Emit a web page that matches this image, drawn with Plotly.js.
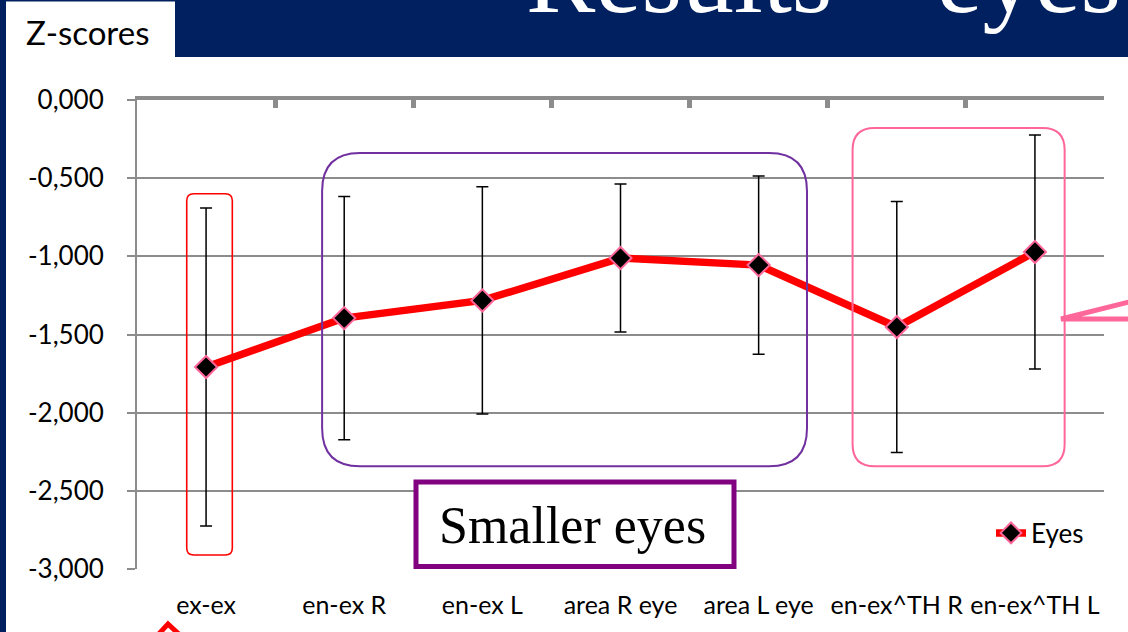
<!DOCTYPE html>
<html>
<head>
<meta charset="utf-8">
<script src="https://cdn.plot.ly/plotly-3.0.1.min.js"></script>
<style>
  html, body { margin: 0; padding: 0; background: #ffffff; }
  #chart { width: 1128px; height: 632px; }
</style>
</head>
<body>
<div id="chart"></div>
<script>
// Eye measurements, mean z-scores with their standard deviations
const categories = ['ex-ex', 'en-ex R', 'en-ex L', 'area R eye', 'area L eye', 'en-ex^TH R', 'en-ex^TH L'];
const zScores = [-1.708, -1.395, -1.282, -1.011, -1.056, -1.452, -0.972];
const zErrors = [1.017, 0.778, 0.727, 0.473, 0.570, 0.803, 0.748];
const yTicks = [0, -0.5, -1, -1.5, -2, -2.5, -3];
// decimal comma, plain hyphen for the sign
const yTickText = yTicks.map(v => v.toFixed(3).replace('.', ','));

// Page geometry
const W = 1128, H = 632;
const M = { l: 137, r: 24, t: 100, b: 63 };
const PW = W - M.l - M.r;   // plot width in px
const PH = H - M.t - M.b;   // plot height in px
const X_RANGE = [-0.5, categories.length - 0.5];
const Y_RANGE = [-3, 0];

// pixel -> paper helpers for page decoration
const px = x => (x - M.l) / PW;
const py = y => (H - M.b - y) / PH;

// Rounded rectangle drawn in data space (category index / z-score), corner radius in px
function roundBox(x0, x1, yBottom, yTop, r) {
  const rx = r / (PW / (X_RANGE[1] - X_RANGE[0]));
  const ry = r / (PH / (Y_RANGE[1] - Y_RANGE[0]));
  return `M${x0 + rx},${yTop} L${x1 - rx},${yTop} Q${x1},${yTop} ${x1},${yTop - ry} ` +
         `L${x1},${yBottom + ry} Q${x1},${yBottom} ${x1 - rx},${yBottom} ` +
         `L${x0 + rx},${yBottom} Q${x0},${yBottom} ${x0},${yBottom + ry} ` +
         `L${x0},${yTop - ry} Q${x0},${yTop} ${x0 + rx},${yTop} Z`;
}

const NAVY = '#002060';
const GRID = '#8c8c8c';
const SANS = 'Lato, "Open Sans", sans-serif';

const eyes = {
  type: 'scatter',
  mode: 'lines+markers',
  name: 'Eyes',
  x: categories,
  y: zScores,
  line: { color: '#ff0000', width: 7.5 },
  marker: { symbol: 'diamond', size: 17, color: '#000000', line: { color: '#ff6699', width: 2 } },
  error_y: { type: 'data', array: zErrors, visible: true, color: '#000000', thickness: 1.5, width: 6 },
  cliponaxis: false,
  hoverinfo: 'x+y'
};

// carries the category labels on the lower axis
const labelCarrier = {
  type: 'scatter',
  mode: 'markers',
  x: categories,
  y: zScores,
  xaxis: 'x2',
  yaxis: 'y',
  marker: { opacity: 0 },
  showlegend: false,
  hoverinfo: 'skip'
};

const layout = {
  width: W,
  height: H,
  margin: M,
  paper_bgcolor: '#ffffff',
  plot_bgcolor: '#ffffff',
  showlegend: true,
  legend: {
    x: px(991), xanchor: 'left',
    y: py(533), yanchor: 'middle',
    bgcolor: 'rgba(0,0,0,0)',
    font: { family: SANS, size: 26, color: '#000000' }
  },
  xaxis: {
    type: 'category',
    range: X_RANGE,
    side: 'top',
    showline: true, linecolor: GRID, linewidth: 4,
    ticks: 'inside', tickson: 'boundaries', ticklen: 8, tickwidth: 5, tickcolor: GRID,
    showticklabels: false,
    showgrid: false, zeroline: false, fixedrange: true
  },
  xaxis2: {
    type: 'category',
    range: X_RANGE,
    overlaying: 'x',
    anchor: 'y',
    side: 'bottom',
    showline: false, ticks: '', showgrid: false, zeroline: false,
    tickangle: 0,
    tickfont: { family: SANS, size: 25, color: '#000000' },
    ticklabelstandoff: 19,
    fixedrange: true
  },
  yaxis: {
    range: Y_RANGE,
    tickmode: 'array', tickvals: yTicks, ticktext: yTickText,
    showgrid: true, gridcolor: GRID, gridwidth: 1.5,
    showline: true, linecolor: GRID, linewidth: 2,
    ticks: 'outside', ticklen: 8, tickwidth: 2, tickcolor: GRID,
    zeroline: false,
    tickfont: { family: SANS, size: 26, color: '#000000' },
    ticklabelstandoff: 18,
    fixedrange: true
  },
  shapes: [
    // slide banner and border
    { type: 'rect', xref: 'paper', yref: 'paper', x0: px(175), x1: px(W + 5), y0: py(57), y1: py(-5),
      fillcolor: NAVY, line: { width: 0 }, layer: 'above' },
    { type: 'rect', xref: 'paper', yref: 'paper', x0: px(-5), x1: px(6), y0: py(H + 5), y1: py(-5),
      fillcolor: NAVY, line: { width: 0 }, layer: 'above' },
    { type: 'rect', xref: 'paper', yref: 'paper', x0: px(-5), x1: px(176), y0: py(1.5), y1: py(-5),
      fillcolor: NAVY, line: { width: 0 }, layer: 'above' },
    // group outlines
    { type: 'path', xref: 'x', yref: 'y', path: roundBox(-0.14, 0.19, -2.91, -0.60, 7),
      line: { color: '#ff0000', width: 1.6 }, layer: 'above' },
    { type: 'path', xref: 'x', yref: 'y', path: roundBox(0.84, 4.35, -2.342, -0.339, 38),
      line: { color: '#7030a0', width: 2 }, layer: 'above' },
    { type: 'path', xref: 'x', yref: 'y', path: roundBox(4.68, 6.215, -2.342, -0.179, 22),
      line: { color: '#ff6699', width: 2 }, layer: 'above' },
    // caption box
    { type: 'rect', xref: 'paper', yref: 'paper', x0: px(416), x1: px(734), y0: py(566.5), y1: py(482),
      fillcolor: '#ffffff', line: { color: '#800080', width: 5 }, layer: 'above' },
    // pointer on the right
    { type: 'path', xref: 'paper', yref: 'paper',
      path: `M${px(W + 5)},${py(319)} L${px(1061)},${py(319)} L${px(W + 5)},${py(301)}`,
      line: { color: '#ff6699', width: 5 }, layer: 'above' },
    // arrow tip below the first category
    { type: 'path', xref: 'paper', yref: 'paper',
      path: `M${px(156)},${py(637)} L${px(168)},${py(624)} L${px(182)},${py(637)}`,
      line: { color: '#ff0000', width: 5 }, layer: 'above' }
  ],
  annotations: [
    { text: 'Results – eyes', xref: 'paper', yref: 'paper', x: px(524), y: py(-24),
      xanchor: 'left', yanchor: 'middle', showarrow: false,
      font: { family: '"Liberation Serif", "DejaVu Serif", serif', size: 104, color: '#ffffff' } },
    { text: 'Z-scores', xref: 'paper', yref: 'paper', x: px(24), y: py(32),
      xanchor: 'left', yanchor: 'middle', showarrow: false,
      font: { family: SANS, size: 33, color: '#000000' } },
    { text: 'Smaller eyes', xref: 'paper', yref: 'paper', x: px(572), y: py(525),
      xanchor: 'center', yanchor: 'middle', showarrow: false,
      font: { family: '"Liberation Serif", "DejaVu Serif", serif', size: 52, color: '#000000' } }
  ]
};

Plotly.newPlot('chart', [eyes, labelCarrier], layout, { displayModeBar: false });
</script>
</body>
</html>
